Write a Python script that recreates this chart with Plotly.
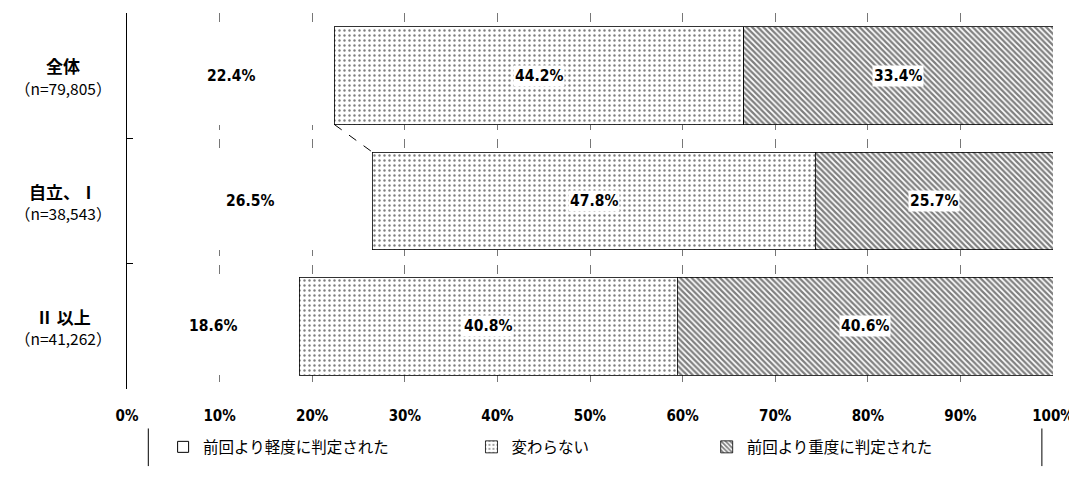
import plotly.graph_objects as go

categories = ["全体", "自立、Ⅰ", "Ⅱ 以上"]
sample_sizes = ["（n=79,805）", "（n=38,543）", "（n=41,262）"]
series_names = ["前回より軽度に判定された", "変わらない", "前回より重度に判定された"]
lighter = [22.4, 26.5, 18.6]
unchanged = [44.2, 47.8, 40.8]
heavier = [33.4, 25.7, 40.6]
x_ticks = [0, 10, 20, 30, 40, 50, 60, 70, 80, 90, 100]

NUM = "Liberation Sans Narrow, DejaVu Sans Condensed, Roboto, sans-serif"
JP = "Noto Sans CJK JP, sans-serif"
BAR_W = 0.78

fig = go.Figure()
fig.add_trace(go.Bar(
    y=categories, x=lighter, name=series_names[0], orientation="h", showlegend=False,
    marker=dict(color="white", line=dict(color="black", width=0)),
))
fig.add_trace(go.Bar(
    y=categories, x=unchanged, name=series_names[1], orientation="h", legend="legend2",
    marker=dict(color="white", line=dict(color="black", width=0.8),
                pattern=dict(shape=".", fgcolor="black", bgcolor="white", size=5, solidity=0.18)),
))
fig.add_trace(go.Bar(
    y=categories, x=heavier, name=series_names[2], orientation="h", legend="legend3",
    marker=dict(color="white", line=dict(color="black", width=0.8),
                pattern=dict(shape="\\", fgcolor="black", bgcolor="white", size=4, solidity=0.55)),
))
# legend-only entry for the white series (outlined square symbol)
fig.add_trace(go.Scatter(
    x=[None], y=[None], mode="markers", name=series_names[0], legend="legend",
    marker=dict(symbol="square-open", size=11, color="black", line=dict(width=1)),
))

annotations = []
for i, cat in enumerate(categories):
    a, b, c = lighter[i], unchanged[i], heavier[i]
    mids = [a / 2, a + b / 2, a + b + c / 2]
    vals = [a, b, c]
    for j in range(3):
        annotations.append(dict(
            x=mids[j], y=cat, xref="x", yref="y", text=f"<b>{vals[j]:.1f}%</b>",
            showarrow=False, font=dict(family=NUM, size=15.5, color="black"),
            bgcolor="white" if j > 0 else "rgba(0,0,0,0)", borderpad=1,
        ))
    annotations.append(dict(
        x=-0.069, y=cat, xref="paper", yref="y", yshift=10,
        text=f"<b>{cat}</b>", showarrow=False, xanchor="center",
        font=dict(family=JP, size=17, color="black"),
    ))
    annotations.append(dict(
        x=-0.069, y=cat, xref="paper", yref="y", yshift=-12,
        text=sample_sizes[i], showarrow=False, xanchor="center",
        font=dict(family=JP, size=15.5, color="black"),
    ))

shapes = [
    dict(type="line", xref="x", yref="y", x0=lighter[0], x1=lighter[1],
         y0=0 + BAR_W / 2, y1=1 - BAR_W / 2, line=dict(color="black", width=1, dash="dash")),
    dict(type="line", xref="paper", yref="paper", x0=0.023, x1=0.023, y0=-0.105, y1=-0.205,
         line=dict(color="black", width=1)),
    dict(type="line", xref="paper", yref="paper", x0=0.988, x1=0.988, y0=-0.105, y1=-0.205,
         line=dict(color="black", width=1)),
]

leg_common = dict(orientation="h", xanchor="left", y=-0.155, yanchor="middle",
                  font=dict(family=JP, size=15.5, color="black"), itemwidth=30,
                  bgcolor="rgba(0,0,0,0)")

fig.update_layout(
    width=1069, height=477,
    margin=dict(l=119, r=24, t=5, b=96),
    paper_bgcolor="white", plot_bgcolor="white",
    barmode="stack", bargap=1 - BAR_W,
    showlegend=True,
    legend=dict(x=0.039, **leg_common),
    legend2=dict(x=0.372, **leg_common),
    legend3=dict(x=0.626, **leg_common),
    xaxis=dict(range=[0, 100], tickvals=x_ticks, ticktext=[f"<b>{t}%</b>" for t in x_ticks],
               showgrid=True, gridcolor="#777", griddash="dash", gridwidth=1,
               zeroline=False, showline=False, ticks="", ticklabelstandoff=16,
               automargin=False, ticklabeloverflow="allow",
               tickfont=dict(family=NUM, size=15, color="black")),
    yaxis=dict(autorange="reversed", showticklabels=False, showline=True, linecolor="black",
               linewidth=1, ticks="inside", ticklen=6, tickson="boundaries", tickcolor="black",
               showgrid=False, zeroline=False, automargin=False),
    annotations=annotations, shapes=shapes,
    font=dict(family=JP, color="black"),
)

fig.write_html("out.html")
